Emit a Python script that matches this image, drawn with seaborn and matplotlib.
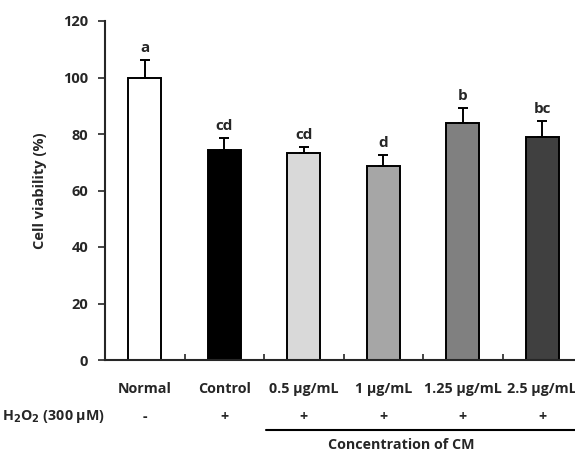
import numpy as np
import pandas as pd
import seaborn as sns
import matplotlib.pyplot as plt

groups = ['Normal', 'Control', '0.5 μg/mL', '1 μg/mL', '1.25 μg/mL', '2.5 μg/mL']
viability = [100.0, 74.3, 73.4, 68.8, 83.8, 79.0]
sd = [6.3, 4.3, 2.1, 3.8, 5.5, 5.6]
letters = ['a', 'cd', 'cd', 'd', 'b', 'bc']
h2o2 = ['-', '+', '+', '+', '+', '+']
colors = ['#ffffff', '#000000', '#d9d9d9', '#a6a6a6', '#808080', '#404040']

sns.set_style('white')
plt.rcParams['font.family'] = ['Open Sans', 'DejaVu Sans']
plt.rcParams['font.weight'] = 'bold'

df = pd.DataFrame({'group': groups, 'viability': viability})

fig = plt.figure(figsize=(5.75, 4.51), dpi=100)
ax = fig.add_axes([105 / 575, 1 - 360 / 451, 477 / 575, 339 / 451])

sns.barplot(data=df, x='group', y='viability', hue='group', palette=colors,
            legend=False, errorbar=None, width=0.42, edgecolor='black',
            linewidth=1.4, ax=ax)
x = np.arange(len(groups))
ax.errorbar(x, viability, yerr=[np.zeros(len(sd)), sd], fmt='none',
            ecolor='black', elinewidth=1.4, capsize=3.5, capthick=1.4)

for xi, v, s, lab in zip(x, viability, sd, letters):
    ax.text(xi, v + s + 1.8, lab, ha='center', va='bottom', fontsize=11, fontweight='bold')

ax.set_xlim(-0.5, 5.5)
ax.set_ylim(0, 120)
ax.set_yticks(range(0, 121, 20))
ax.set_ylabel('Cell viability (%)', fontsize=10.5, fontweight='bold', labelpad=12)
ax.set_xlabel('')
ax.set_xticks(np.arange(0.5, 5.5, 1))
ax.set_xticklabels([])
ax.tick_params(axis='x', direction='in', length=4, width=1.2, bottom=True)
ax.tick_params(axis='y', direction='out', length=5, width=1.2, left=True, labelsize=10.5, pad=7)
for t in ax.get_yticklabels():
    t.set_fontweight('bold')
sns.despine(ax=ax)
for sp in ['left', 'bottom']:
    ax.spines[sp].set_linewidth(1.5)

trans = ax.get_xaxis_transform()
for xi, g, h in zip(x, groups, h2o2):
    ax.text(xi, -0.085, g, transform=trans, ha='center', va='center', fontsize=10.3, fontweight='bold')
    ax.text(xi, -0.168, h, transform=trans, ha='center', va='center', fontsize=10.3, fontweight='bold')
ax.text(-0.5, -0.168, 'H$_\\mathbf{2}$O$_\\mathbf{2}$ (300 μM)', transform=trans, ha='right', va='center',
        fontsize=10.3, fontweight='bold')
ax.plot([1.52, 5.6], [-0.206, -0.206], transform=trans, color='black', lw=1.5, clip_on=False)
ax.text(3.23, -0.252, 'Concentration of CM', transform=trans, ha='center', va='center',
        fontsize=10.3, fontweight='bold')

fig.savefig('out.png', dpi=100)
